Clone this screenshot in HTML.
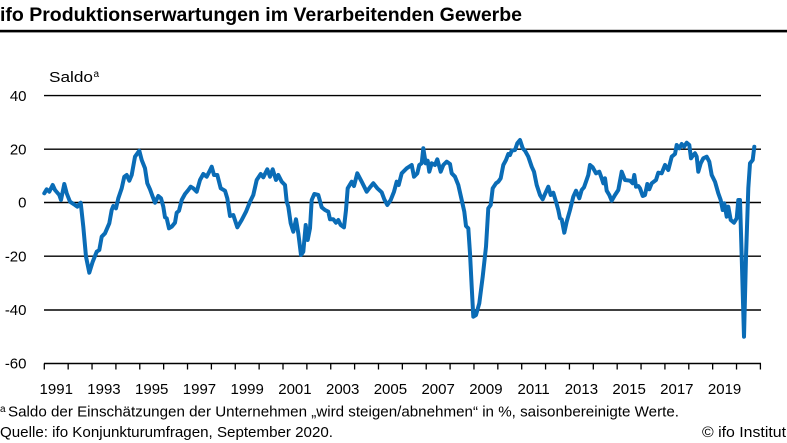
<!DOCTYPE html>
<html><head><meta charset="utf-8"><style>
html,body{margin:0;padding:0;background:#fff;}
svg{display:block;}
text{font-family:"Liberation Sans",sans-serif;fill:#000;}
</style></head><body>
<svg width="787" height="443" viewBox="0 0 787 443" xmlns="http://www.w3.org/2000/svg">
<text x="0" y="21" font-size="19" font-weight="bold" textLength="522" lengthAdjust="spacingAndGlyphs">ifo Produktionserwartungen im Verarbeitenden Gewerbe</text>
<rect x="0" y="29.8" width="787" height="2.6" fill="#000"/>
<text x="49" y="82" font-size="15" textLength="44" lengthAdjust="spacingAndGlyphs">Saldo</text>
<text x="93.5" y="77" font-size="10">a</text>
<g stroke="#000" stroke-width="1.4">
<line x1="44" y1="95.6" x2="761" y2="95.6"/>
<line x1="44" y1="149.2" x2="761" y2="149.2"/>
<line x1="44" y1="202.5" x2="761" y2="202.5"/>
<line x1="44" y1="256.2" x2="761" y2="256.2"/>
<line x1="44" y1="310" x2="761" y2="310"/>
<line x1="44" y1="363.5" x2="761" y2="363.5"/>
</g>
<g font-size="15" text-anchor="end">
<text x="26.5" y="100.8">40</text>
<text x="26.5" y="154.4">20</text>
<text x="26.5" y="207.7">0</text>
<text x="26.5" y="261.4">-20</text>
<text x="26.5" y="315.2">-40</text>
<text x="26.5" y="368.7">-60</text>
</g>
<g stroke="#000" stroke-width="1.3" id="ticks"></g>
<g id="years" font-size="15" text-anchor="middle"></g>
<polyline fill="none" stroke="#0a6cb6" stroke-width="4" stroke-linejoin="round" stroke-linecap="round" points="
44.3,193.3 46.7,189.3 49.3,191.7 52.7,185 55,190 59.3,195 61,200 64.3,184 66.7,193.3 70,201.7 75,205 77.3,206.7 80.7,202.7 83.3,226.7 86,256.7 89.3,272.7 92.7,261.7 96.7,251.7 99.3,250 101.7,236.7 105,233.3 109.3,223.3 111.7,210 113.3,206 116,208.3 118.3,198.3 121.7,188.3 124.3,176.7 126.7,175 129.3,180.7 131.7,175 135,156.7 139.3,150.7 141.7,160 145,168.3 147.3,183.3 150,189.3 152.7,196.7 155,202.7 158.3,196 161,198.3 163.3,206.7 165,217.3 166.7,218.3 169,228.3 171.7,226.7 175,222.7 176.7,212.7 179,210.7 181.7,200 185,194 188.3,190 190.7,186.7 193.3,188.3 196.7,191.7 200,180 203.3,174 206.7,176.7 209.3,171.7 211.7,166.7 214,175 217.3,175 220.7,188.3 225,190.7 227.3,198.3 230,216 233.3,215 237.3,227.3 241.7,220 246,211.7 250,201.7 253.3,195 256.7,180 260.7,174 263.3,177.3 267.3,169.3 270,176.7 272.7,169.3 276,180 278.3,175 281.7,181.7 285,185 286.7,201.7 288.3,206.7 290.7,223.3 293.3,231.7 296,219.3 298.3,233.3 301,255 303.3,251.7 305.7,225 307.7,240 310,228.3 311.7,200 314.3,194 318.3,195 321.7,207.3 325,210 328.3,211.7 330,219.3 333.3,219.3 336,222.7 338.3,220 340.7,225 344,227.3 346,210 347.7,188.3 351.7,181.7 354,186 357.3,173.3 361.7,181.7 366.7,191.7 370,187.3 373.3,183.3 377.3,188.3 381.7,192.3 384.3,199.3 387.3,205 390.7,200 394,191.7 396.7,181.7 398.7,185 401.7,173.3 406.7,168.3 411.7,165 414,176.7 417.3,173.3 419.3,165 421.7,163.3 423.3,148.3 425.7,163.3 427.7,160.7 429.3,171.7 431.7,163.3 435,165 437.3,159.3 440.7,171.7 443.3,165 446.7,161.7 450,164 451.7,173.3 455,176.7 458.3,185 461.7,200 464.3,211.7 466,226 468.3,228.3 470,253.3 471.7,286.7 473.3,316.7 476,315 479.3,303.3 482.7,276.7 486,246.7 488.3,208.3 490.7,205 492.7,188.3 496,183.3 498.3,181.7 500.7,178.3 503.3,165 506,160 508.3,154 510,155 511.7,150.7 515,150 517.3,143.3 520,140 522.7,148.3 525,150.7 528.3,156.7 531.7,166.7 534,171.7 536.7,185 540,195 542.7,199.3 545,194 548.3,186.7 550.7,195 553.3,192.7 556,201.7 558.3,210 560,218.3 561.7,219.3 564.3,232.7 566.7,221.7 570,210 573.3,196.7 576,190.7 579.3,198.3 581.7,190 584,187.3 586,181.7 588.3,175 590,165 592.7,167.3 596,173.3 599.3,171.7 601.7,178.3 603.3,183.3 605,178.3 606.7,190.7 609.3,195 611.7,200.7 615,195 618.3,190 621.7,171.7 625,180 630,180.7 632.7,183.3 634.3,175 636,186.7 638.3,186 640,188.3 642.7,196 645,195 647.3,184 649.3,189.3 651.7,183.3 656,180 658.3,172.7 661.7,173.3 665,165 668.3,170 671.7,156.7 675,154 676.7,145 679.3,148.3 681.7,144 684,146.7 686.7,142.7 689.3,145 691,158.3 693.3,155 695,153.3 696.7,156.7 698.3,171.7 700.7,163.3 703.3,158.3 706.7,156.7 709.3,161.7 711.7,175 715,181.7 718.3,193.3 720.7,200 722.7,210 724.3,203.3 726.7,216.7 728.3,206.7 730.7,220 734,222.7 736.7,218.3 738.3,200 740,200 741.7,256.7 744,336.7 746,256.7 748.3,188.3 750,163.3 752.7,160 754.3,146.7"/>
<text x="0" y="412" font-size="10">a</text>
<text x="8" y="416.5" font-size="15" textLength="671" lengthAdjust="spacingAndGlyphs">Saldo der Einschätzungen der Unternehmen „wird steigen/abnehmen“ in %, saisonbereinigte Werte.</text>
<text x="0" y="437" font-size="15" textLength="333" lengthAdjust="spacingAndGlyphs">Quelle: ifo Konjunkturumfragen, September 2020.</text>
<text x="702" y="437" font-size="15" textLength="84" lengthAdjust="spacingAndGlyphs">© ifo Institut</text>
<script>
(function(){
var ns="http://www.w3.org/2000/svg";
var t=document.getElementById("ticks"),y=document.getElementById("years");
var x0=44.3,s=23.87;
for(var i=0;i<=30;i++){var l=document.createElementNS(ns,"line");var x=x0+i*s;l.setAttribute("x1",x);l.setAttribute("x2",x);l.setAttribute("y1",363.5);l.setAttribute("y2",369.5);t.appendChild(l);}
for(var i=0;i<30;i+=2){var tx=document.createElementNS(ns,"text");tx.setAttribute("x",x0+(i+0.5)*s);tx.setAttribute("y",394);tx.textContent=String(1991+i);y.appendChild(tx);}
})();
</script>
</svg>
</body></html>
